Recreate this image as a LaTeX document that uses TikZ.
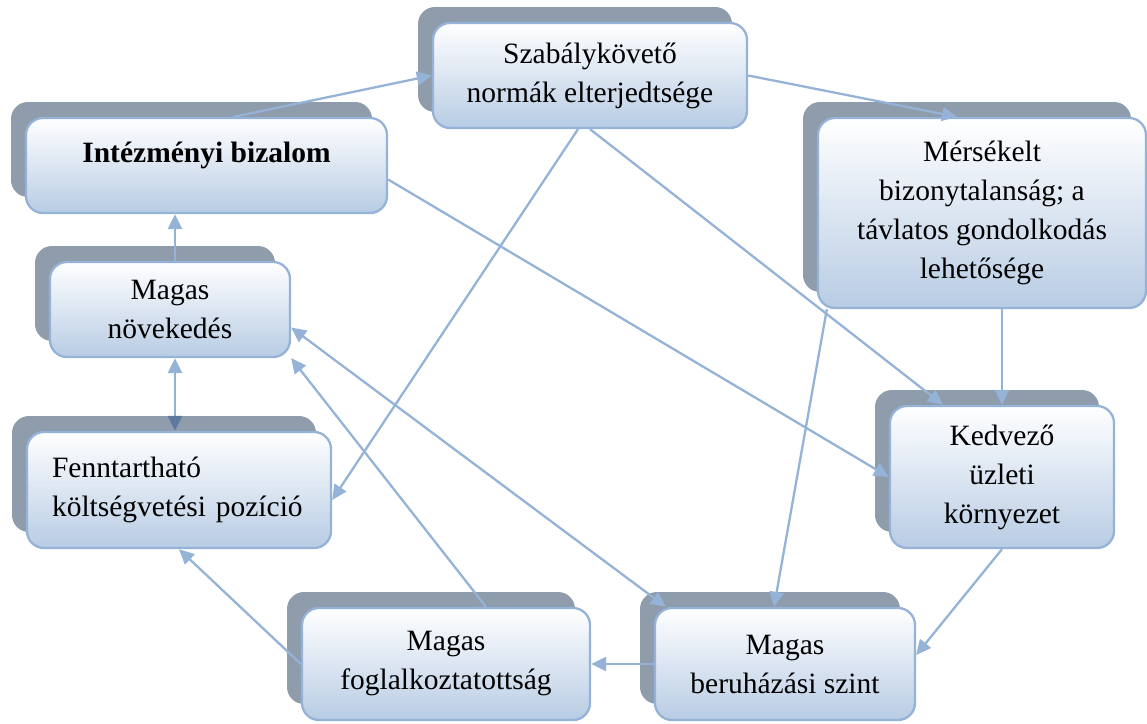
\documentclass[tikz,border=0pt]{standalone}
\usepackage{fontspec}
\setmainfont{Liberation Serif}
\usetikzlibrary{arrows.meta,shadows}
\definecolor{boxline}{RGB}{149,179,215}
\definecolor{boxfill}{RGB}{184,204,228}
\definecolor{boxshadow}{RGB}{143,156,172}
\definecolor{tipdark}{RGB}{92,122,160}

\begin{document}
\begin{tikzpicture}[x=1pt,y=-1pt,
    >={Triangle[length=15pt,width=14pt]},
    box/.style={draw=boxline,line width=2.3pt,rounded corners=17pt,
      top color=white,bottom color=boxfill,align=center,inner sep=0pt,
      font=\fontsize{29.5}{39}\selectfont,
      general shadow={shadow xshift=-15pt,shadow yshift=16pt,fill=boxshadow,draw=none}},
    link/.style={draw=boxline,line width=2.3pt,->}]
  \useasboundingbox (0,0) rectangle (1147,723);

  % boxes
  \node[box,minimum width=314,minimum height=105] (szab) at (590,75.5)
     {Szabálykövető\\normák elterjedtsége};
  \node[box,minimum width=361,minimum height=95] (intez) at (206.5,165.5)
     {\textbf{Intézményi bizalom}\\[-12pt]\mbox{}};
  \node[box,minimum width=328,minimum height=190] (mers) at (982,213)
     {Mérsékelt\\bizonytalanság; a\\távlatos gondolkodás\\lehetősége};
  \node[box,minimum width=240,minimum height=95] (novek) at (170,309.5)
     {Magas\\növekedés};
  \node[box,minimum width=304,minimum height=116,text width=254,align=left] (fennt) at (179,490)
     {Fenntartható\\költségvetési pozíció};
  \node[box,minimum width=224,minimum height=142] (kedv) at (1002,477)
     {Kedvező\\üzleti\\környezet};
  \node[box,minimum width=288,minimum height=112] (fogl) at (446,664)
     {Magas\\foglalkoztatottság};
  \node[box,minimum width=260,minimum height=112] (beruh) at (785,664)
     {Magas\\beruházási szint};

  % connectors
  \draw[link] ([xshift=27pt]intez.north) -- (szab.west);
  \draw[link] (szab.east) -- ([xshift=-25pt]mers.north);
  \draw[link] ([xshift=-12pt]szab.south) -- ([yshift=-10pt]fennt.east);
  \draw[link] (szab.south) -- ([xshift=-59pt]kedv.north);
  \draw[link] ([yshift=-14pt]intez.east) -- (kedv.west);
  \draw[link] (kedv.north |- mers.south) -- (kedv.north);
  \draw[link] ([xshift=10pt]mers.south west) -- ([xshift=-11pt]beruh.north);
  \draw[link] ([xshift=5pt]novek.north) -- ([xshift=5pt]novek.north |- intez.south);
  \draw[link,<-{Triangle[length=15pt,width=14pt,color=tipdark]}]
     ([xshift=5pt]novek.south) -- ([xshift=5pt]novek.south |- fennt.north);
  \draw[link,<->] ([yshift=-18pt]novek.east) -- ([xshift=12pt]beruh.north west);
  \draw[link] ([xshift=40pt]fogl.north) -- (novek.south east);
  \draw[link] (fogl.west) -- (fennt.south);
  \draw[link] (beruh.west) -- (fogl.east);
  \draw[link] (kedv.south) -- ([yshift=9pt]beruh.east);
\end{tikzpicture}
\end{document}
